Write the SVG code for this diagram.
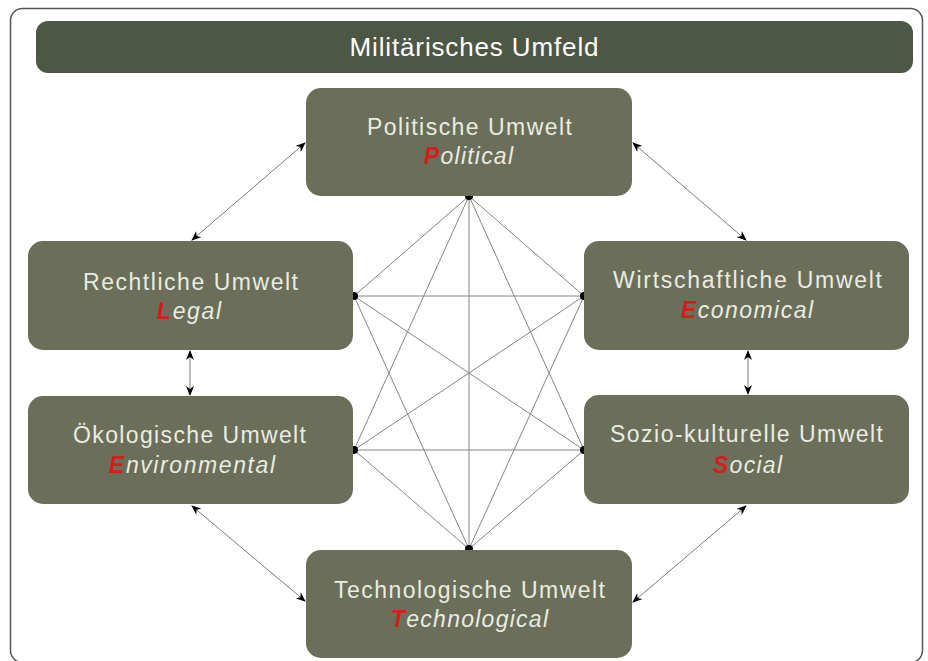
<svg xmlns="http://www.w3.org/2000/svg" width="928" height="661" viewBox="0 0 928 661">
  <style>
    .node { fill: #6b6e59; }
    .l1 { font-family: "Liberation Sans", Arial, sans-serif; font-size: 23px; fill: #e9ece2; text-anchor: middle; }
    .l2 { font-family: "Liberation Sans", Arial, sans-serif; font-size: 23px; font-style: italic; fill: #e9ece2; text-anchor: middle; }
    .red { fill: #d41d1d; font-weight: bold; }
    .mesh { stroke: #858585; stroke-width: 1; fill: none; }
    .arr { stroke: #6e6e6e; stroke-width: 0.9; fill: none; marker-start: url(#ah); marker-end: url(#ah); }
    .dot { fill: #000; }
  </style>
  <defs>
    <marker id="ah" markerUnits="userSpaceOnUse" markerWidth="10" markerHeight="8" refX="9" refY="4" orient="auto-start-reverse" viewBox="0 0 10 8">
      <path d="M0,0 L10,4 L0,8 L3,4 z" fill="#000"/>
    </marker>
  </defs>
  <rect x="0" y="0" width="928" height="661" fill="#ffffff"/>
  <rect id="frame" x="10.5" y="8.5" width="912" height="654" rx="12" fill="none" stroke="#555" stroke-width="1.5"/>

  <g id="title">
    <rect x="36" y="21" width="877" height="52" rx="12" fill="#4d5745"/>
    <text x="474" y="56" font-family="'Liberation Sans', Arial, sans-serif" font-size="26" fill="#ffffff" text-anchor="middle" textLength="249" lengthAdjust="spacing">Militärisches Umfeld</text>
  </g>

  <g id="connectors">
    <line class="mesh" x1="469" y1="196" x2="354" y2="296"/>
    <line class="mesh" x1="469" y1="196" x2="584" y2="296"/>
    <line class="mesh" x1="469" y1="196" x2="354" y2="450"/>
    <line class="mesh" x1="469" y1="196" x2="584" y2="450"/>
    <line class="mesh" x1="469" y1="196" x2="469" y2="549"/>
    <line class="mesh" x1="354" y1="296" x2="584" y2="296"/>
    <line class="mesh" x1="354" y1="296" x2="584" y2="450"/>
    <line class="mesh" x1="354" y1="296" x2="469" y2="549"/>
    <line class="mesh" x1="584" y1="296" x2="354" y2="450"/>
    <line class="mesh" x1="584" y1="296" x2="469" y2="549"/>
    <line class="mesh" x1="354" y1="450" x2="584" y2="450"/>
    <line class="mesh" x1="354" y1="450" x2="469" y2="549"/>
    <line class="mesh" x1="584" y1="450" x2="469" y2="549"/>
    <circle class="dot" cx="469" cy="196" r="4"/>
    <circle class="dot" cx="354" cy="296" r="4"/>
    <circle class="dot" cx="584" cy="296" r="4"/>
    <circle class="dot" cx="354" cy="450" r="4"/>
    <circle class="dot" cx="584" cy="450" r="4"/>
    <circle class="dot" cx="469" cy="549" r="4"/>

    <line class="arr" x1="305" y1="143" x2="192" y2="240"/>
    <line class="arr" x1="633" y1="143" x2="746" y2="240"/>
    <line class="arr" x1="190" y1="351" x2="190" y2="395"/>
    <line class="arr" x1="748" y1="351" x2="748" y2="394"/>
    <line class="arr" x1="192" y1="506" x2="305" y2="601"/>
    <line class="arr" x1="746" y1="506" x2="633" y2="602"/>
  </g>

  <g id="political">
    <rect class="node" x="306" y="88" width="326" height="108" rx="15"/>
    <text class="l1" x="469.5" y="135" textLength="205" lengthAdjust="spacing">Politische Umwelt</text>
    <text class="l2" x="468.5" y="164" textLength="89" lengthAdjust="spacing"><tspan class="red">P</tspan>olitical</text>
  </g>

  <g id="legal">
    <rect class="node" x="28" y="241" width="325" height="109" rx="15"/>
    <text class="l1" x="190.5" y="290" textLength="215" lengthAdjust="spacing">Rechtliche Umwelt</text>
    <text class="l2" x="189" y="319" textLength="64" lengthAdjust="spacing"><tspan class="red">L</tspan>egal</text>
  </g>

  <g id="economical">
    <rect class="node" x="584" y="241" width="325" height="109" rx="15"/>
    <text class="l1" x="747.5" y="288" textLength="269" lengthAdjust="spacing">Wirtschaftliche Umwelt</text>
    <text class="l2" x="747" y="318" textLength="132" lengthAdjust="spacing"><tspan class="red">E</tspan>conomical</text>
  </g>

  <g id="environmental">
    <rect class="node" x="28" y="396" width="325" height="108" rx="15"/>
    <text class="l1" x="189.5" y="443" textLength="233" lengthAdjust="spacing">Ökologische Umwelt</text>
    <text class="l2" x="192" y="473" textLength="166" lengthAdjust="spacing"><tspan class="red">E</tspan>nvironmental</text>
  </g>

  <g id="social">
    <rect class="node" x="584" y="395" width="325" height="109" rx="15"/>
    <text class="l1" x="746.5" y="442" textLength="273" lengthAdjust="spacing">Sozio-kulturelle Umwelt</text>
    <text class="l2" x="747.5" y="473" textLength="69" lengthAdjust="spacing"><tspan class="red">S</tspan>ocial</text>
  </g>

  <g id="technological">
    <rect class="node" x="306" y="550" width="326" height="108" rx="15"/>
    <text class="l1" x="469.5" y="598" textLength="271" lengthAdjust="spacing">Technologische Umwelt</text>
    <text class="l2" x="469.5" y="627" textLength="157" lengthAdjust="spacing"><tspan class="red">T</tspan>echnological</text>
  </g>
</svg>
